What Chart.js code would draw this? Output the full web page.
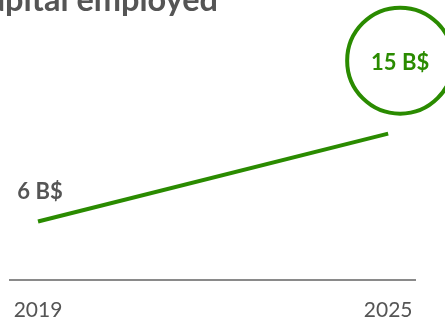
<!DOCTYPE html>
<html>
<head>
<meta charset="utf-8">
<script src="https://cdn.jsdelivr.net/npm/chart.js@4.4.1/dist/chart.umd.min.js"></script>
<style>
  html, body { margin: 0; padding: 0; background: #fff; }
  #wrap { position: relative; width: 445px; height: 320px; }
</style>
</head>
<body>
<div id="wrap"><canvas id="c"></canvas></div>
<script>
// Capital employed, billions of dollars
const years = [2019, 2025];
const capital = [6, 15];
const unit = ' B$';
const titleText = 'Capital employed';

const GREEN = '#2a8b00';
const GREY = '#555555';
const FONT = 'Lato, "DejaVu Sans", sans-serif';

// Title (runs off the top-left edge) plus value labels and the highlight ring
const annotate = {
  id: 'annotate',
  afterDatasetsDraw(chart) {
    const { ctx, scales: { x, y } } = chart;
    ctx.save();
    ctx.fillStyle = GREY;
    // size the heading so its tail spans from x=5 to x=218
    ctx.font = 'bold 30px ' + FONT;
    const tail = ctx.measureText(titleText.slice(2)).width;
    const size = 30 * 213 / tail;
    ctx.font = 'bold ' + size.toFixed(1) + 'px ' + FONT;
    ctx.textAlign = 'right';
    ctx.textBaseline = 'alphabetic';
    ctx.fillText(titleText, 218, 11);

    // first value label
    const x0 = x.getPixelForValue(years[0]);
    const y0 = y.getPixelForValue(capital[0]);
    ctx.font = 'bold 22px ' + FONT;
    ctx.textAlign = 'center';
    ctx.textBaseline = 'middle';
    ctx.fillStyle = GREY;
    ctx.fillText(capital[0] + unit, x0 + 2, y0 - 30);

    // last value with ring
    const n = years.length - 1;
    const x1 = x.getPixelForValue(years[n]);
    const y1 = y.getPixelForValue(capital[n]);
    const cx = x1 + 12, cy = y1 - 73;
    ctx.beginPath();
    ctx.arc(cx, cy, 53, 0, Math.PI * 2);
    ctx.lineWidth = 4;
    ctx.strokeStyle = GREEN;
    ctx.stroke();
    ctx.fillStyle = GREEN;
    ctx.font = 'bold 22px ' + FONT;
    ctx.fillText(capital[n] + unit, cx, cy + 2);
    ctx.restore();
  }
};

new Chart(document.getElementById('c'), {
  type: 'line',
  data: {
    datasets: [{
      data: years.map((yr, i) => ({ x: yr, y: capital[i] })),
      borderColor: GREEN,
      borderWidth: 4,
      pointRadius: 0,
      tension: 0,
      fill: false
    }]
  },
  options: {
    responsive: true,
    maintainAspectRatio: false,
    animation: false,
    layout: { padding: { left: 10, right: 30, top: 0, bottom: 0 } },
    plugins: { legend: { display: false }, tooltip: { enabled: false } },
    scales: {
      x: {
        type: 'linear',
        min: 2018.52,
        max: 2025.46,
        afterBuildTicks: (s) => { s.ticks = years.map(v => ({ value: v })); },
        afterFit: (s) => { s.height = 40; s.paddingLeft = 0; s.paddingRight = 0; },
        grid: { display: false, drawTicks: false },
        border: { display: true, color: '#8a8a8a', width: 2 },
        ticks: {
          padding: 18,
          color: GREY,
          font: { family: FONT, size: 21 },
          maxRotation: 0,
          autoSkip: false,
          callback: (v) => String(v)
        }
      },
      y: {
        display: false,
        min: 0,
        max: 28.7
      }
    }
  },
  plugins: [annotate]
});
</script>
</body>
</html>
